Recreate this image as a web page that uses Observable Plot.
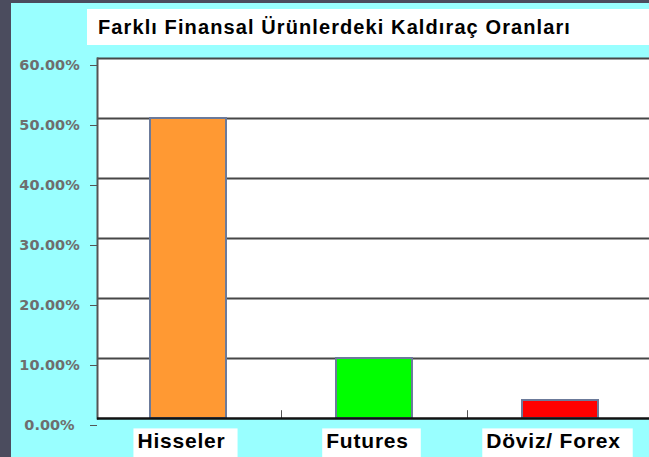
<!DOCTYPE html>
<html>
<head>
<meta charset="utf-8">
<script src="https://cdn.jsdelivr.net/npm/d3@7"></script>
<script src="https://cdn.jsdelivr.net/npm/@observablehq/plot@0.6"></script>
<style>
  html, body { margin: 0; padding: 0; width: 649px; height: 457px; overflow: hidden; background: #4b4c5e; }
  #panel { position: absolute; left: 11px; top: 3px; width: 638px; height: 454px; background: #99ffff; }
  #title { position: absolute; left: 87px; top: 9px; width: 562px; height: 36px; background: #ffffff;
           font-family: "Liberation Sans", Arial, sans-serif; font-weight: bold; font-size: 20px; letter-spacing: 1.1px;
           color: #000; line-height: 36px; padding-left: 11px; box-sizing: border-box; white-space: nowrap; }
  #chart { position: absolute; left: 0; top: 0; width: 649px; height: 457px; overflow: hidden; }
</style>
</head>
<body>
<div id="panel"></div>
<div id="title">Farklı Finansal Ürünlerdeki Kaldıraç Oranları</div>
<div id="chart"></div>
<script>
const categories = ["Hisseler", "Futures", "Döviz/ Forex"];
const values = [0.50, 0.10, 0.03];
const colors = ["#FF9933", "#00FF00", "#FF0000"];
const yTicks = [0, 0.1, 0.2, 0.3, 0.4, 0.5, 0.6];

const data = categories.map((c, i) => ({category: c, value: values[i], color: colors[i]}));
const xRange = [95, 653];
const step = (xRange[1] - xRange[0]) / categories.length;

const chart = Plot.plot({
  width: 649,
  height: 457,
  marginTop: 58,
  marginBottom: 39,
  marginLeft: 97,
  marginRight: 0,
  style: {background: "transparent", overflow: "hidden"},
  x: {type: "band", domain: categories, range: xRange, paddingInner: 0.59, paddingOuter: 0.295, align: 0.5, label: null},
  y: {domain: [0, 0.6], label: null},
  marks: [
    Plot.frame({fill: "white", stroke: null}),
    Plot.ruleY(yTicks.filter(d => d > 0), {stroke: "#474747", strokeWidth: 2}),
    Plot.frame({anchor: "left", stroke: "#555", strokeWidth: 2}),
    Plot.barY(data, {x: "category", y: "value", fill: "color", stroke: "#6b7a9a", strokeWidth: 2}),
    Plot.ruleX(categories.slice(0, categories.length - 1), {x: d => d, y1: 0, y2: 0.013, dx: step / 2, stroke: "#555", strokeWidth: 1}),
    Plot.ruleY([0], {stroke: "#111", strokeWidth: 2.5}),
    Plot.axisY({ticks: yTicks, tickFormat: d => (d * 100).toFixed(2) + "%", tickSize: 7, tickPadding: 41,
      textAnchor: "middle", dy: 7, stroke: "#555", fill: "#6e6e6e", label: null,
      fontFamily: "DejaVu Sans, Verdana, sans-serif", fontWeight: "bold", fontSize: 14.5}),
    Plot.axisX({tickSize: 0, tickPadding: 15, dx: -7, fill: "#000", fontFamily: "Liberation Sans, Arial, sans-serif",
      fontWeight: "bold", fontSize: 21, label: null})
  ]
});
document.getElementById("chart").appendChild(chart);

// white boxes behind x tick labels, sized from each label's own text box
const labelGroup = chart.querySelector('g[aria-label="x-axis tick label"]');
if (labelGroup) {
  labelGroup.setAttribute("letter-spacing", "0.8");
  const ns = "http://www.w3.org/2000/svg";
  const boxes = document.createElementNS(ns, "g");
  labelGroup.querySelectorAll("text").forEach(t => {
    const b = t.getBBox();
    const m = t.getCTM();
    const r = document.createElementNS(ns, "rect");
    r.setAttribute("x", b.x + m.e - 4);
    r.setAttribute("y", b.y + m.f - 1);
    r.setAttribute("width", b.width + 16);
    r.setAttribute("height", 60);
    r.setAttribute("fill", "white");
    boxes.appendChild(r);
  });
  labelGroup.parentNode.insertBefore(boxes, labelGroup);
}
</script>
</body>
</html>
